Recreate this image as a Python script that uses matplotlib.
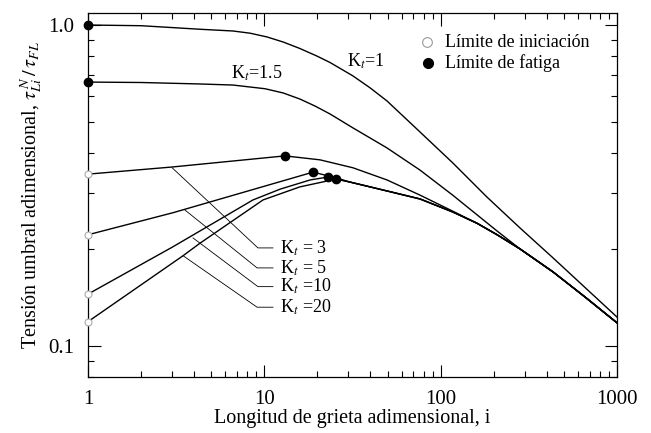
import matplotlib
matplotlib.use("Agg")
import matplotlib.pyplot as plt
from matplotlib.ticker import FixedLocator, FixedFormatter, LogLocator, NullFormatter

plt.rcParams['font.family'] = ['Liberation Serif', 'DejaVu Serif']
plt.rcParams['mathtext.fontset'] = 'stix'

# ---- data ----
kt1_x = [1, 2, 4.32, 6.64, 8.3, 10.35, 12.8, 15.9, 19.9, 23.6, 31.8, 39.8, 49.6, 76.4, 117, 183, 282, 434, 659, 1000]
kt1_y = [1.0, 0.995, 0.97, 0.958, 0.943, 0.918, 0.885, 0.845, 0.80, 0.764, 0.694, 0.637, 0.580, 0.464, 0.372, 0.291, 0.233, 0.188, 0.152, 0.123]

kt15_x = [1, 2, 4.32, 6.64, 10.1, 12.8, 15.9, 19.4, 23.6, 31.8, 49.6, 76.4, 117, 161, 209, 282, 434, 659, 1000]
kt15_y = [0.664, 0.662, 0.655, 0.650, 0.633, 0.614, 0.588, 0.559, 0.528, 0.478, 0.414, 0.353, 0.295, 0.256, 0.228, 0.2005, 0.170, 0.142, 0.118]

kt3_x = [1, 3.0, 13.1, 20.7, 31.8, 49.6, 76.4, 117, 161, 209, 282, 434, 659, 1000]
kt3_y = [0.343, 0.361, 0.391, 0.380, 0.359, 0.329, 0.295, 0.263, 0.241, 0.222, 0.2005, 0.170, 0.142, 0.118]

kt5_x = [1, 3.03, 18.9, 25.5, 30.6, 49.6, 76.4, 117, 161, 209, 282, 434, 659, 1000]
kt5_y = [0.222, 0.260, 0.348, 0.334, 0.324, 0.304, 0.287, 0.2615, 0.241, 0.222, 0.2005, 0.170, 0.142, 0.118]

kt10_x = [1, 3.0, 5.39, 8.62, 12.3, 18.2, 23.0, 30.6, 49.6, 76.4, 117, 161, 209, 282, 434, 659, 1000]
kt10_y = [0.145, 0.203, 0.245, 0.285, 0.308, 0.329, 0.336, 0.324, 0.304, 0.287, 0.2615, 0.241, 0.222, 0.2005, 0.170, 0.142, 0.118]

kt20_x = [1, 3.46, 4.32, 9.83, 15.9, 25.5, 30.6, 49.6, 76.4, 117, 161, 209, 282, 434, 659, 1000]
kt20_y = [0.119, 0.191, 0.209, 0.285, 0.313, 0.331, 0.324, 0.304, 0.287, 0.2615, 0.241, 0.222, 0.2005, 0.170, 0.142, 0.118]

# fatigue limit points (filled) and initiation limit points (open)
fat_x = [1, 1, 13.1, 18.9, 23.0, 25.5]
fat_y = [1.0, 0.664, 0.391, 0.348, 0.336, 0.331]
ini_x = [1, 1, 1, 1]
ini_y = [0.343, 0.222, 0.145, 0.119]

# leader lines for the K_t labels: start on curve, elbow, end
lead_labels = ["K$_t$ = 3", "K$_t$ = 5", "K$_t$ =10", "K$_t$ =20"]
lead_start_x = [3.0, 3.55, 3.94, 3.46]
lead_start_y = [0.359, 0.265, 0.217, 0.191]
lead_elbow_x = [9.2, 9.1, 9.2, 9.1]
lead_end_x = [11.2, 11.2, 11.2, 11.2]
lead_y = [0.202, 0.175, 0.153, 0.132]

xticks = [1, 10, 100, 1000]
xtick_labels = ["1", "10", "100", "1000"]
yticks = [0.1, 1.0]
ytick_labels = ["0.1", "1.0"]

# ---- figure ----
fig = plt.figure(figsize=(6.51, 4.33), dpi=100)
ax = fig.add_axes([88/651, 1-377/433, (617-88)/651, (377-13)/433])
ax.set_xscale('log')
ax.set_yscale('log')
ax.set_xlim(1, 1000)
ax.set_ylim(0.080, 1.09)

lw = 1.0
for xs, ys in [(kt1_x, kt1_y), (kt15_x, kt15_y), (kt3_x, kt3_y),
               (kt5_x, kt5_y), (kt10_x, kt10_y), (kt20_x, kt20_y)]:
    ax.plot(xs, ys, color='black', lw=lw, solid_joinstyle='round', zorder=3)

ax.plot(fat_x, fat_y, 'o', color='black', ms=6, zorder=5, clip_on=False)
ax.plot(ini_x, ini_y, 'o', mfc='white', mec='#aaaaaa', ms=5, mew=0.8, zorder=4, clip_on=False)

for lab, sx, sy, ex, hx, ly in zip(lead_labels, lead_start_x, lead_start_y,
                                   lead_elbow_x, lead_end_x, lead_y):
    ax.plot([sx, ex, hx], [sy, ly, ly], color='black', lw=0.6, zorder=2)
    ax.text(12.3, ly, lab, fontsize=13, va='center', ha='left')

ax.text(29.4, 0.77, "K$_t$=1", fontsize=13, va='center', ha='left')
ax.text(6.5, 0.708, "K$_t$=1.5", fontsize=13, va='center', ha='left')

# legend (drawn as text and markers)
ax.plot([83.7], [0.885], 'o', mfc='white', mec='#999999', ms=7, mew=0.8, zorder=5)
ax.plot([84.5], [0.761], 'o', color='black', ms=7, zorder=5)
ax.text(106, 0.885, "Límite de iniciación", fontsize=13, va='center', ha='left')
ax.text(106, 0.761, "Límite de fatiga", fontsize=13, va='center', ha='left')

# ticks
ax.xaxis.set_major_locator(FixedLocator(xticks))
ax.xaxis.set_major_formatter(FixedFormatter(xtick_labels))
ax.xaxis.set_minor_locator(LogLocator(base=10, subs=range(2, 10)))
ax.xaxis.set_minor_formatter(NullFormatter())
ax.yaxis.set_major_locator(FixedLocator(yticks))
ax.yaxis.set_major_formatter(FixedFormatter(ytick_labels))
ax.yaxis.set_minor_locator(LogLocator(base=10, subs=range(2, 10)))
ax.yaxis.set_minor_formatter(NullFormatter())
ax.tick_params(which='both', direction='in', top=True, right=True, labelsize=15, width=0.8)
ax.tick_params(which='major', length=9, pad=10)
ax.tick_params(which='minor', length=4.5)
ax.tick_params(axis='x', which='major', pad=9)
for s in ax.spines.values():
    s.set_linewidth(0.9)

ax.set_xlabel("Longitud de grieta adimensional, i", fontsize=14.5, labelpad=0)
ax.set_ylabel("Tensión umbral adimensional, $\\tau^{\\,N}_{Li}\\,/\\,\\tau_{FL}$", fontsize=14.5, labelpad=3)

fig.savefig("out.png", dpi=100)
